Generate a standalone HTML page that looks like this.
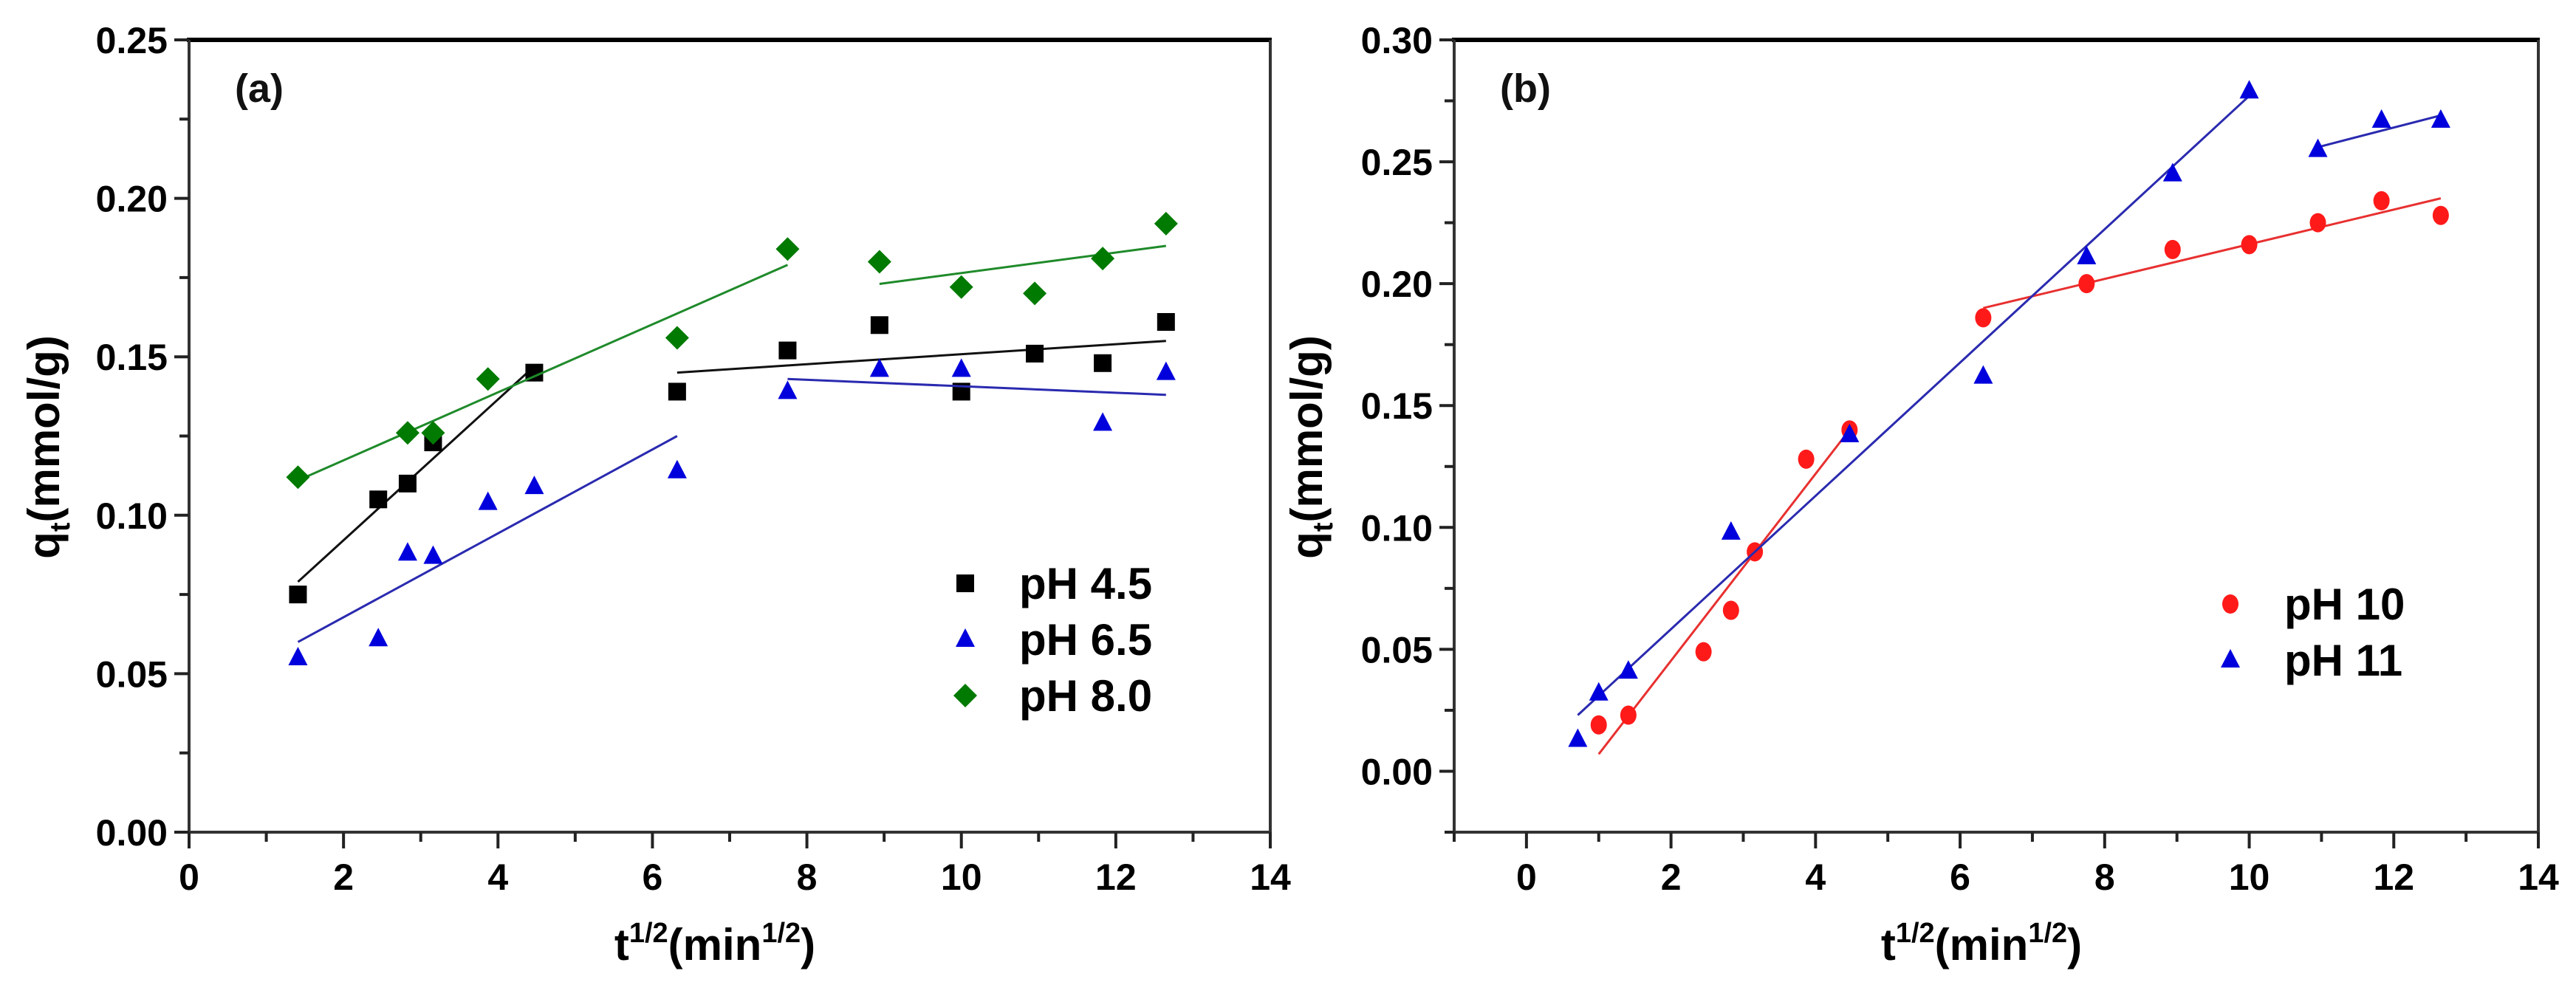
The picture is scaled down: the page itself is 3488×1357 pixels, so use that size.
<!DOCTYPE html>
<html><head><meta charset="utf-8"><style>
html,body{margin:0;padding:0;background:#fff;}
svg{display:block;font-family:"Liberation Sans",Arial,sans-serif;font-weight:bold;}
</style></head><body>
<svg id="fig" width="3488" height="1357" viewBox="0 0 3488 1357"></svg>
<script>
// Panel (a) data
const aX45=[1.41,2.45,2.83,3.16,4.47,6.32,7.75,8.94,10,10.95,11.83,12.65];
const aY45=[0.075,0.105,0.110,0.123,0.145,0.139,0.152,0.160,0.139,0.151,0.148,0.161];
const aX65=[1.41,2.45,2.83,3.16,3.87,4.47,6.32,7.75,8.94,10,11.83,12.65];
const aY65=[0.055,0.061,0.088,0.087,0.104,0.109,0.114,0.139,0.146,0.146,0.129,0.145];
const aX80=[1.41,2.83,3.16,3.87,6.32,7.75,8.94,10,10.95,11.83,12.65];
const aY80=[0.112,0.126,0.126,0.143,0.156,0.184,0.180,0.172,0.170,0.181,0.192];
const aFit45=[[1.41,0.079,4.47,0.147],[6.32,0.145,12.65,0.155]];
const aFit65=[[1.41,0.060,6.32,0.125],[7.75,0.143,12.65,0.138]];
const aFit80=[[1.41,0.111,7.75,0.179],[8.94,0.173,12.65,0.185]];
const aYTicks=[0,0.05,0.10,0.15,0.20,0.25];
const aXTicks=[0,2,4,6,8,10,12,14];
// Panel (b) data
const bX10=[1,1.41,2.45,2.83,3.16,3.87,4.47,6.32,7.75,8.94,10,10.95,11.83,12.65];
const bY10=[0.019,0.023,0.049,0.066,0.090,0.128,0.140,0.186,0.200,0.214,0.216,0.225,0.234,0.228];
const bX11=[0.71,1,1.41,2.83,4.47,6.32,7.75,8.94,10,10.95,11.83,12.65];
const bY11=[0.013,0.032,0.041,0.098,0.138,0.162,0.211,0.245,0.279,0.255,0.267,0.267];
const bFit10=[[1,0.007,4.47,0.140],[6.32,0.190,12.65,0.235]];
const bFit11=[[0.71,0.023,10,0.277],[10.95,0.256,12.65,0.269]];
const bYTicks=[0,0.05,0.10,0.15,0.20,0.25,0.30];
const bXTicks=[0,2,4,6,8,10,12,14];

const NS="http://www.w3.org/2000/svg";
const svg=document.getElementById('fig');
function mk(tag,attrs,parent){const e=document.createElementNS(NS,tag);for(const k in attrs)e.setAttribute(k,attrs[k]);(parent||svg).appendChild(e);return e;}

function panel(cfg){
  const g=mk('g',{});
  
  
  const sx=v=>cfg.L+(v-cfg.x0)/(cfg.x1-cfg.x0)*(cfg.R-cfg.L);
  const sy=v=>cfg.B-(v-cfg.y0)/(cfg.y1-cfg.y0)*(cfg.B-cfg.T);
  // axes
  const top=mk('line',{x1:cfg.L-3,y1:cfg.T,x2:cfg.R+2,y2:cfg.T,stroke:'#000','stroke-width':6},g);
  
  
  const ax=mk('path',{d:`M${cfg.L},${cfg.T} V${cfg.B} H${cfg.R} V${cfg.T}`,fill:'none',stroke:'#333','stroke-width':4},g);
  
  
  // y ticks
  cfg.yt.forEach((v,i)=>{
    const y=sy(v);
    mk('line',{x1:cfg.L-20,y1:y,x2:cfg.L,y2:y,stroke:'#222','stroke-width':4},g);
    if(i<cfg.yt.length-1){const ym=sy(v+(cfg.yt[1]-cfg.yt[0])/2);mk('line',{x1:cfg.L-13,y1:ym,x2:cfg.L,y2:ym,stroke:'#222','stroke-width':4},g);}
    const t=mk('text',{x:cfg.L-29,y:y+18,'text-anchor':'end','font-size':50,fill:'#000'},g);
    t.textContent=v.toFixed(2);
    
    
  });
  if(cfg.y0<0){const ym=sy(cfg.y0);mk('line',{x1:cfg.L-13,y1:ym,x2:cfg.L,y2:ym,stroke:'#222','stroke-width':4},g);}
  // x ticks
  for(let v=cfg.x0;v<=cfg.x1;v+=1){
    const x=sx(v);const major=cfg.xt.includes(v);
    mk('line',{x1:x,y1:cfg.B,x2:x,y2:cfg.B+(major?22:13),stroke:'#222','stroke-width':4},g);
  }
  cfg.xt.forEach(v=>{
    const t=mk('text',{x:sx(v),y:cfg.B+78,'text-anchor':'middle','font-size':50,fill:'#000'},g);
    t.textContent=String(v);
    
    
  });
  // titles
  const xt=mk('text',{x:(cfg.L+cfg.R)/2-20,y:1300,'text-anchor':'middle','font-size':60,fill:'#000'},g);
  xt.innerHTML='t<tspan font-size="38" dy="-24">1/2</tspan><tspan dy="24">(min</tspan><tspan font-size="38" dy="-24">1/2</tspan><tspan dy="24">)</tspan>';
  
  
  const yt=mk('text',{x:0,y:0,'text-anchor':'middle','font-size':60,fill:'#000',transform:`translate(${cfg.ytx},${(cfg.T+cfg.B)/2+15}) rotate(-90)`},g);
  yt.innerHTML='q<tspan font-size="38" dy="14">t</tspan><tspan dy="-14">(mmol/g)</tspan>';
  
  
  const pl=mk('text',{x:cfg.L+62,y:cfg.T+84,'font-size':54,fill:'#111'},g);
  pl.textContent=cfg.label;
  
  
  // series
  cfg.series.forEach(s=>{
    const sg=mk('g',{},g);
    
    
    s.fit.forEach(f=>{
      const l=mk('line',{x1:sx(f[0]),y1:sy(f[1]),x2:sx(f[2]),y2:sy(f[3]),stroke:s.line,'stroke-width':3},sg);
      
      
    });
    s.xs.forEach((xv,i)=>{
      const m=marker(s.shape,sx(xv),sy(s.ys[i]),s.color,sg);
      
      
    });
  });
  // legend
  cfg.series.forEach((s,i)=>{
    const y=cfg.legY+i*76;
    const m=marker(s.shape,cfg.legX,y,s.color,g);
    
    
    const t=mk('text',{x:cfg.legX+73,y:y+21,'font-size':60,fill:'#000'},g);
    t.textContent=s.name;
    
    
  });
}
function marker(shape,x,y,c,p){
  if(shape==='sq')return mk('rect',{x:x-12,y:y-12,width:24,height:24,fill:c},p);
  if(shape==='tri')return mk('polygon',{points:`${x},${y-15} ${x+13},${y+10} ${x-13},${y+10}`,fill:c},p);
  if(shape==='dia')return mk('polygon',{points:`${x},${y-16} ${x+16},${y} ${x},${y+16} ${x-16},${y}`,fill:c},p);
  return mk('ellipse',{cx:x,cy:y,rx:11,ry:13,fill:c},p);
}
panel({name:'panel-a',L:256,R:1720,T:54,B:1127,x0:0,x1:14,y0:0,y1:0.25,yt:aYTicks,xt:aXTicks,ytx:80,label:'(a)',legX:1307,legY:790,
  series:[
   {key:'ph45',name:'pH 4.5',shape:'sq',color:'#000',line:'#111',xs:aX45,ys:aY45,fit:aFit45},
   {key:'ph65',name:'pH 6.5',shape:'tri',color:'#0000dd',line:'#2a2ab0',xs:aX65,ys:aY65,fit:aFit65},
   {key:'ph80',name:'pH 8.0',shape:'dia',color:'#007a00',line:'#1f8a2a',xs:aX80,ys:aY80,fit:aFit80}]});
panel({name:'panel-b',L:1969,R:3437,T:54,B:1127,x0:-1,x1:14,y0:-0.025,y1:0.30,yt:bYTicks,xt:bXTicks,ytx:1790,label:'(b)',legX:3020,legY:818,
  series:[
   {key:'ph10',name:'pH 10',shape:'circ',color:'#ff1a1a',line:'#e83030',xs:bX10,ys:bY10,fit:bFit10},
   {key:'ph11',name:'pH 11',shape:'tri',color:'#0000dd',line:'#2a2ab0',xs:bX11,ys:bY11,fit:bFit11}]});
</script>
</body></html>
